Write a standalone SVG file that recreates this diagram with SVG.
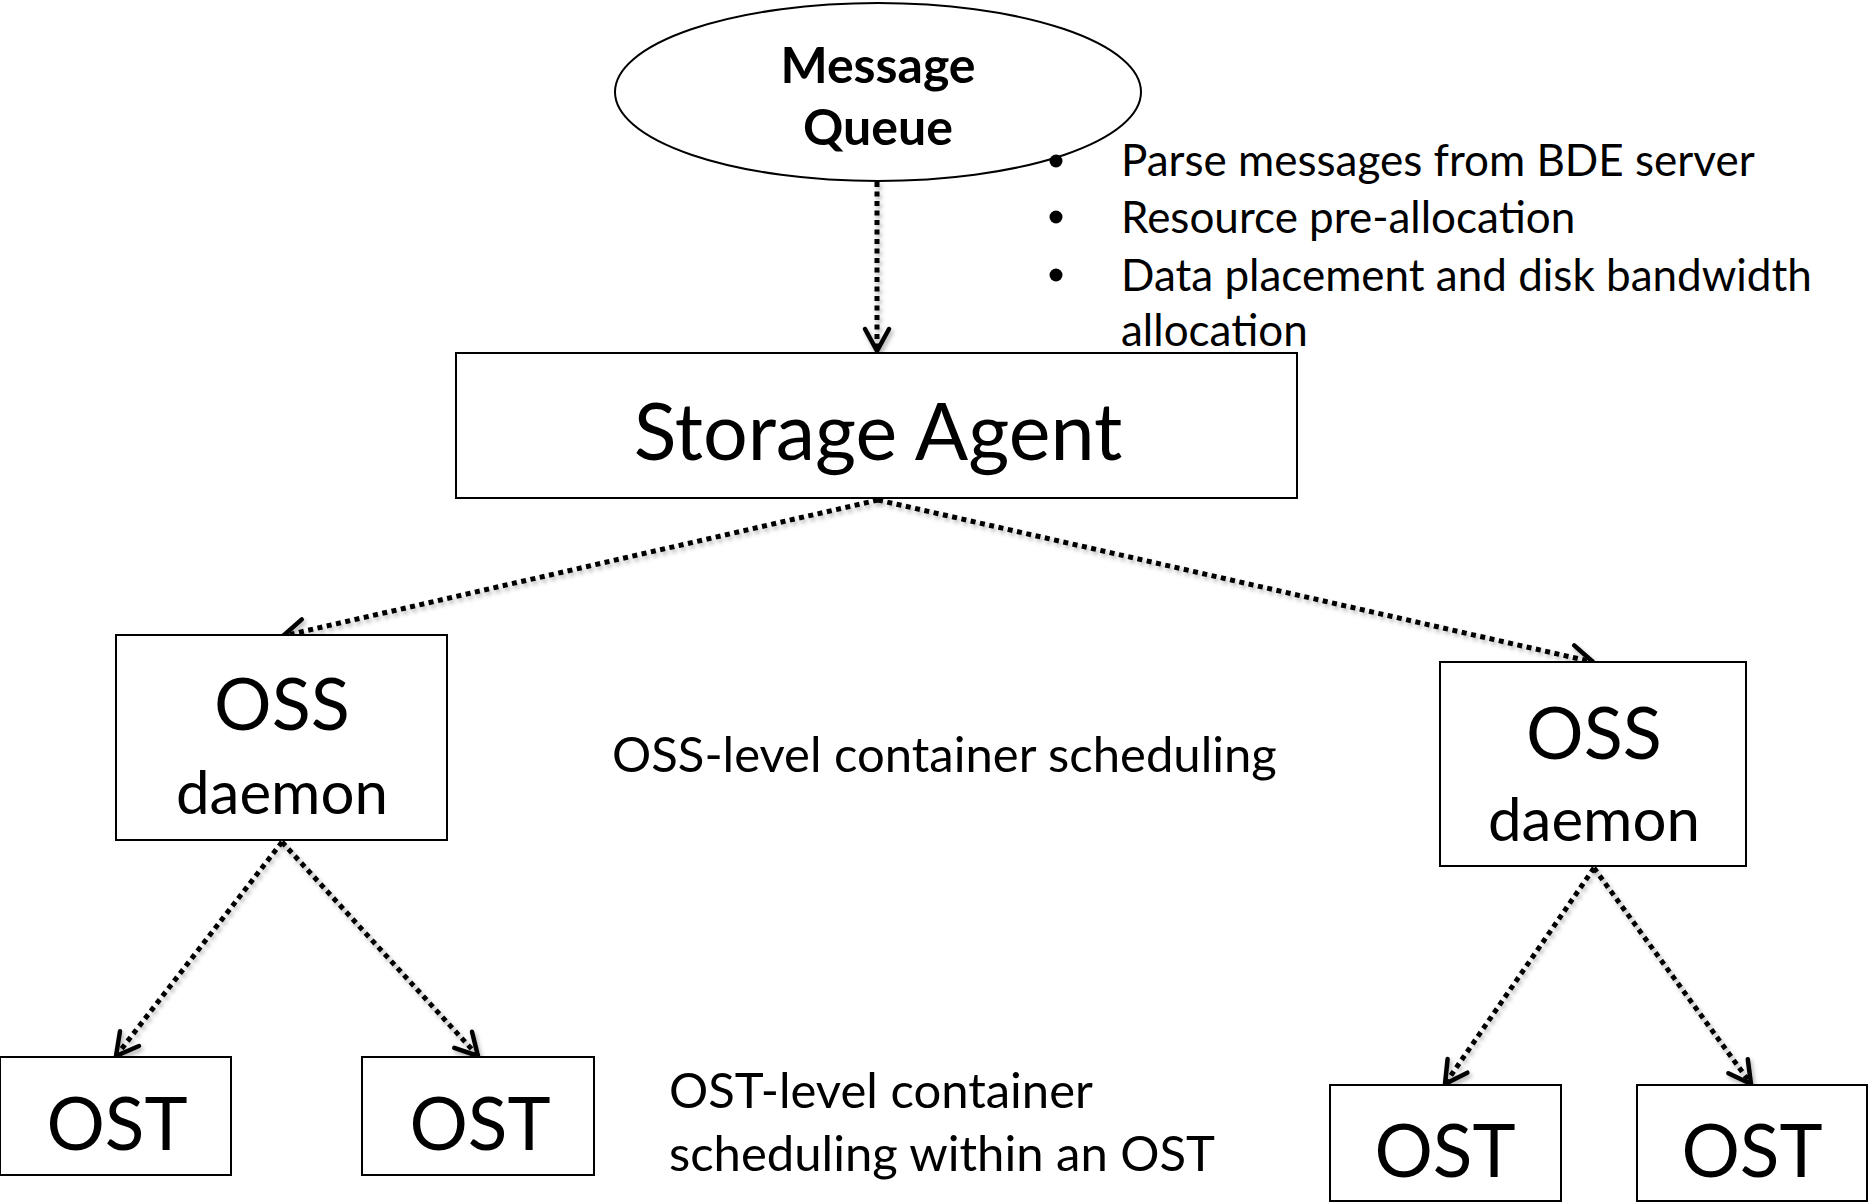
<svg xmlns="http://www.w3.org/2000/svg" width="1868" height="1202" viewBox="0 0 1868 1202">
  <style>
    .shape { fill: #ffffff; stroke: #000000; stroke-width: 2; }
    .label { font-family: Lato, "Open Sans", "Liberation Sans", sans-serif; fill: #000000; text-anchor: middle; }
    .note { font-family: Lato, "Open Sans", "Liberation Sans", sans-serif; fill: #000000; font-size: 44px; }
    .caption { font-family: Lato, "Open Sans", "Liberation Sans", sans-serif; fill: #000000; font-size: 49px; }
    .link { fill: none; stroke: #000000; stroke-width: 5; stroke-dasharray: 5 4.5; }
  </style>
  <defs>
    <marker id="arrow" markerUnits="userSpaceOnUse" markerWidth="34" markerHeight="34" viewBox="0 0 34 34" refX="29" refY="17" orient="auto">
      <path d="M7,5 L29,17 L7,29" fill="none" stroke="#000000" stroke-width="4.5" stroke-linecap="round" stroke-linejoin="round"/>
    </marker>
    <filter id="shadow" x="-10%" y="-10%" width="120%" height="120%">
      <feDropShadow dx="2" dy="3" stdDeviation="2" flood-color="#000000" flood-opacity="0.3"/>
    </filter>
  </defs>

  <rect width="1868" height="1202" fill="#ffffff"/>

  <!-- connectors -->
  <g id="connectors" filter="url(#shadow)">
    <line class="link" x1="877" y1="182" x2="877" y2="351" marker-end="url(#arrow)"/>
    <line class="link" x1="878" y1="500" x2="283" y2="636" marker-end="url(#arrow)"/>
    <line class="link" x1="878" y1="500" x2="1593" y2="662" marker-end="url(#arrow)"/>
    <line class="link" x1="282" y1="842" x2="116" y2="1056" marker-end="url(#arrow)"/>
    <line class="link" x1="282" y1="842" x2="478" y2="1056" marker-end="url(#arrow)"/>
    <line class="link" x1="1594" y1="868" x2="1445" y2="1084" marker-end="url(#arrow)"/>
    <line class="link" x1="1594" y1="868" x2="1751" y2="1084" marker-end="url(#arrow)"/>
  </g>

  <!-- message queue -->
  <g id="message-queue">
    <ellipse class="shape" cx="878" cy="92" rx="263" ry="89"/>
    <text class="label" x="878" y="83" font-size="50" font-weight="bold">Message</text>
    <text class="label" x="878" y="145" font-size="50" font-weight="bold">Queue</text>
  </g>

  <!-- agent duties -->
  <g id="agent-duties">
    <circle cx="1056" cy="161" r="6.5"/>
    <circle cx="1056" cy="217" r="6.5"/>
    <circle cx="1056" cy="275" r="6.5"/>
    <text class="note" x="1121" y="176">Parse messages from BDE server</text>
    <text class="note" x="1121" y="233">Resource pre-allocation</text>
    <text class="note" x="1121" y="291">Data placement and disk bandwidth</text>
    <text class="note" x="1121" y="346">allocation</text>
  </g>

  <!-- storage agent -->
  <g id="storage-agent">
    <rect class="shape" x="456" y="353" width="841" height="145"/>
    <text class="label" x="878" y="460" font-size="79">Storage Agent</text>
  </g>

  <!-- OSS daemons -->
  <g id="oss-left">
    <rect class="shape" x="116" y="635" width="331" height="205"/>
    <text class="label" x="282" y="730" font-size="72">OSS</text>
    <text class="label" x="282" y="814" font-size="60">daemon</text>
  </g>
  <g id="oss-right">
    <rect class="shape" x="1440" y="662" width="306" height="204"/>
    <text class="label" x="1594" y="759" font-size="72">OSS</text>
    <text class="label" x="1594" y="841" font-size="60">daemon</text>
  </g>

  <!-- level captions -->
  <g id="oss-level-caption">
    <text class="caption" x="612" y="772">OSS-level container scheduling</text>
  </g>
  <g id="ost-level-caption">
    <text class="caption" x="669" y="1108">OST-level container</text>
    <text class="caption" x="669" y="1171">scheduling within an OST</text>
  </g>

  <!-- OSTs -->
  <g id="ost-1">
    <rect class="shape" x="0" y="1057" width="231" height="118"/>
    <text class="label" x="117" y="1150" font-size="73">OST</text>
  </g>
  <g id="ost-2">
    <rect class="shape" x="362" y="1057" width="232" height="118"/>
    <text class="label" x="480" y="1150" font-size="73">OST</text>
  </g>
  <g id="ost-3">
    <rect class="shape" x="1330" y="1085" width="231" height="116"/>
    <text class="label" x="1445" y="1177" font-size="73">OST</text>
  </g>
  <g id="ost-4">
    <rect class="shape" x="1637" y="1085" width="230" height="116"/>
    <text class="label" x="1752" y="1177" font-size="73">OST</text>
  </g>
</svg>
